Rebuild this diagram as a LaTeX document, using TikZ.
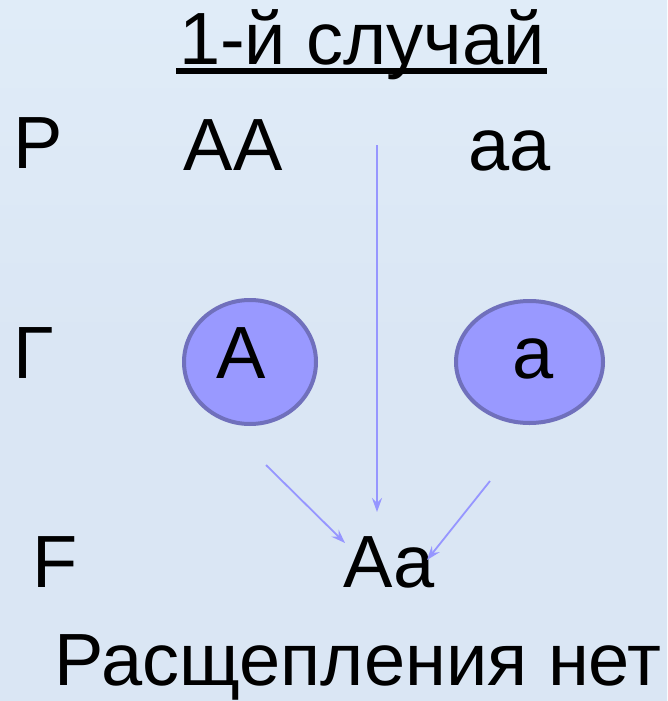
\documentclass[tikz,border=0pt]{standalone}
\usepackage{fontspec}
\setmainfont{Liberation Sans}
\usetikzlibrary{arrows.meta,shapes.geometric}
\definecolor{bgcol}{RGB}{218,230,244}
\definecolor{bgcol2}{RGB}{224,236,248}
\definecolor{gamfill}{RGB}{153,153,255}
\definecolor{gamline}{RGB}{112,112,188}
\definecolor{arrcol}{RGB}{150,150,255}
\tikzset{
  lbl/.style={anchor=base,inner sep=0pt,font=\fontsize{74}{74}\selectfont},
  gamete/.style={ellipse,draw=gamline,line width=4pt,fill=gamfill,inner sep=0pt},
  conn/.style={draw=arrcol,line width=1.8pt,-{Stealth[length=14pt,width=10pt,inset=5pt]}}
}
\begin{document}
\begin{tikzpicture}[x=1pt,y=-1pt]
\path[top color=bgcol2,bottom color=bgcol,middle color=bgcol] (0,0) rectangle (667,701);
\useasboundingbox (0,0) rectangle (667,701);
% title
\node[lbl] (title) at (362,65) {1-й случай};
\draw[line width=5pt] (176,71) -- (547,71);
% row labels
\node[lbl] (P) at (38,168) {P};
\node[lbl] (G) at (34,378) {Г};
\node[lbl] (F) at (55,587) {F};
% parents
\node[lbl] (AA) at (233,170) {AA};
\node[lbl] (aa) at (510,170) {aa};
% gametes
\node[gamete,minimum width=132pt,minimum height=124pt] (cA) at (250,362) {};
\node[gamete,minimum width=147pt,minimum height=122pt] (ca) at (529.5,362) {};
\node[lbl] (gA) at (241,378) {A};
\node[lbl] (ga) at (533,378) {a};
% offspring
\node[lbl] (Aa) at (389,587) {Aa};
\node[lbl] (res) at (358,685) {Расщепления нет};
% connectors
\coordinate (s1) at (266,465);
\coordinate (e1) at (345,543);
\coordinate (s2) at (377,145);
\coordinate (e2) at (377,512);
\coordinate (s3) at (490,481);
\coordinate (e3) at (427,560);
\draw[conn] (s1) -- (e1);
\draw[conn] (s2) -- (e2);
\draw[conn] (s3) -- (e3);
\end{tikzpicture}
\end{document}
